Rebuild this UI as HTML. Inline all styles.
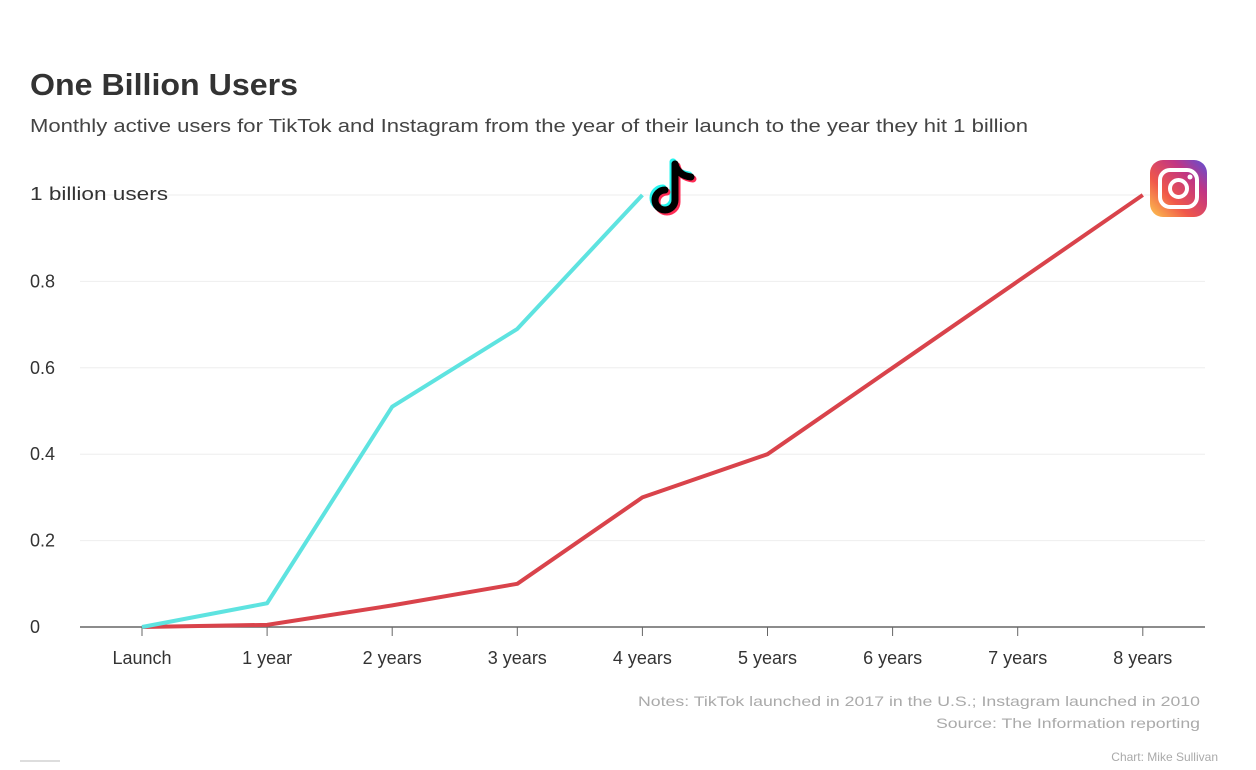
<!DOCTYPE html>
<html><head><meta charset="utf-8"><style>
html,body{margin:0;padding:0;background:#fff;width:1256px;height:770px;overflow:hidden}
svg{display:block;font-family:"Liberation Sans",sans-serif}
</style></head><body>
<svg id="chart" width="1256" height="770">
<defs>
<linearGradient id="ig" x1="0" y1="1" x2="1" y2="0">
<stop offset="0" stop-color="#fdc64e"/><stop offset="0.35" stop-color="#f0584a"/><stop offset="0.7" stop-color="#c13584"/><stop offset="1" stop-color="#5b51d8"/>
</linearGradient>
</defs>
<text x="30" y="95" font-size="31" font-weight="bold" fill="#333" textLength="268" lengthAdjust="spacingAndGlyphs">One Billion Users</text>
<text x="30" y="132" font-size="18" fill="#444" textLength="998" lengthAdjust="spacingAndGlyphs">Monthly active users for TikTok and Instagram from the year of their launch to the year they hit 1 billion</text>
<g id="grid"></g>
<g id="xlabels"></g>
<g id="lines"></g>
<g transform="translate(652,160)">
<g fill="none" stroke-width="7" stroke-linecap="round">
<path d="M23 4 V40 a10 10 0 1 1 -10 -10" stroke="#25f4ee" transform="translate(-2,-2)"/>
<path d="M23 4 c2 8 8 12 16 13" stroke="#25f4ee" transform="translate(-2,-2)"/>
<path d="M23 4 V40 a10 10 0 1 1 -10 -10" stroke="#fe2c55" transform="translate(2,2)"/>
<path d="M23 4 c2 8 8 12 16 13" stroke="#fe2c55" transform="translate(2,2)"/>
<path d="M23 4 V40 a10 10 0 1 1 -10 -10" stroke="#000"/>
<path d="M23 4 c2 8 8 12 16 13" stroke="#000"/>
</g></g>
<g transform="translate(1150,160)">
<rect width="57" height="57" rx="13" fill="url(#ig)"/>
<rect x="10" y="10" width="37" height="37" rx="10" fill="none" stroke="#fff" stroke-width="4"/>
<circle cx="28.5" cy="28.5" r="8.5" fill="none" stroke="#fff" stroke-width="4"/>
<circle cx="40" cy="17" r="2.5" fill="#fff"/>
</g>
<g font-size="14" fill="#aaa" text-anchor="end">
<text x="1200" y="706" textLength="562" lengthAdjust="spacingAndGlyphs">Notes: TikTok launched in 2017 in the U.S.; Instagram launched in 2010</text>
<text x="1200" y="728" textLength="264" lengthAdjust="spacingAndGlyphs">Source: The Information reporting</text>
<text x="1218" y="761" font-size="12">Chart: Mike Sullivan</text>
</g>
<rect x="20" y="760" width="40" height="2" fill="#ddd"/>
</svg>
<script>
const categories=["Launch","1 year","2 years","3 years","4 years","5 years","6 years","7 years","8 years"];
const tiktokValues=[0,0.055,0.51,0.69,1.0];
const instagramValues=[0,0.005,0.05,0.1,0.3,0.4,0.6,0.8,1.0];
const yTicks=[0,0.2,0.4,0.6,0.8,1];
const yTickLabels=["0","0.2","0.4","0.6","0.8","1 billion users"];
const NS="http://www.w3.org/2000/svg";
function xs(i){return 142+i*125.1;}
function ys(v){return 627-v*432;}
function mk(t,a,p){const e=document.createElementNS(NS,t);for(const k in a)e.setAttribute(k,a[k]);p.appendChild(e);return e;}
const grid=document.getElementById('grid');
yTicks.forEach((v,i)=>{
  const l=mk('line',{x1:80,x2:1205,y1:ys(v),y2:ys(v),stroke:i===0?'#666':'#eee','stroke-width':i===0?1.5:1},grid);
  
  
  const attrs={x:30,y:ys(v)+(i===5?5:6),'font-size':18,fill:'#333'};
  if(i===5){attrs.textLength=138;attrs.lengthAdjust='spacingAndGlyphs';}
  const t=mk('text',attrs,grid);
  t.textContent=yTickLabels[i];
  
  
});
const xl=document.getElementById('xlabels');
categories.forEach((c,i)=>{
  const tk=mk('line',{x1:xs(i),x2:xs(i),y1:627,y2:636,stroke:'#666'},xl);
  
  
  const t=mk('text',{x:xs(i),y:664,'font-size':18,fill:'#333','text-anchor':'middle'},xl);
  t.textContent=c;
  
  
});
const lines=document.getElementById('lines');
function series(vals,color,name){
  const p=mk('polyline',{points:vals.map((v,i)=>xs(i)+','+ys(v)).join(' '),fill:'none',stroke:color,'stroke-width':4,'stroke-linejoin':'round'},lines);
  
  
}
series(instagramValues,'#d9434b','instagram-line');
series(tiktokValues,'#5ee3e0','tiktok-line');
</script>
</body></html>
